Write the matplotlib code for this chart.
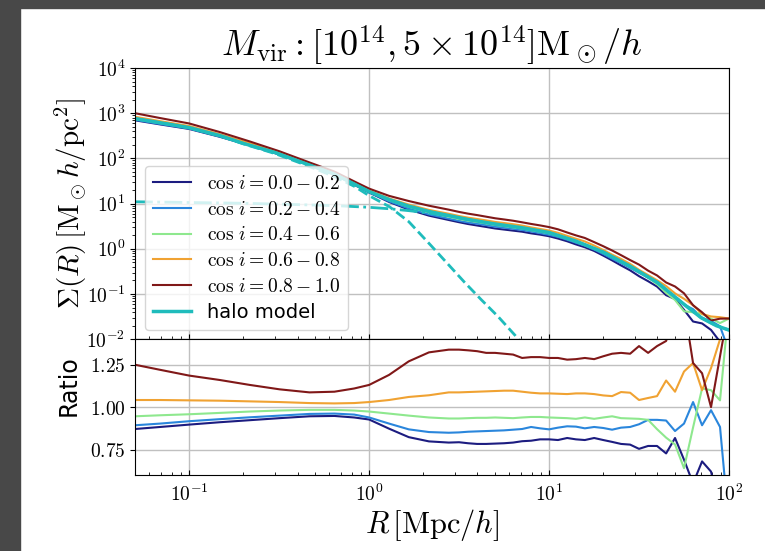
import matplotlib
matplotlib.use('Agg')
import matplotlib.pyplot as plt
import numpy as np
from matplotlib.patches import Rectangle
from matplotlib.ticker import FuncFormatter, LogLocator, FixedLocator

plt.rcParams['mathtext.fontset'] = 'cm'
plt.rcParams['font.family'] = ['DejaVu Sans']

# projected radius bins [Mpc/h]
R = [0.050, 0.069, 0.100, 0.148, 0.217, 0.318, 0.466, 0.641, 0.826, 1.00,
     1.29, 1.66, 2.15, 2.77, 3.16, 3.55, 3.98, 4.47, 5.01, 5.62,
     6.31, 7.08, 7.94, 8.91, 10.0, 11.2, 12.6, 14.1, 15.8, 17.8,
     20.0, 22.4, 25.1, 28.2, 31.6, 35.5, 39.8, 44.7, 50.1, 56.2,
     63.1, 70.8, 79.4, 89.1, 100.0]

# stacked surface density of all orientations [M_sun h / pc^2]
sigma_all = [800, 640, 500, 330, 210, 130, 75, 47, 28, 19,
             12.5, 9.0, 6.8, 5.5, 4.9, 4.5, 4.2, 3.9, 3.6, 3.4,
             3.2, 3.0, 2.75, 2.55, 2.35, 2.1, 1.8, 1.55, 1.35, 1.1,
             0.88, 0.70, 0.55, 0.43, 0.33, 0.25, 0.19, 0.13, 0.095, 0.065,
             0.045, 0.033, 0.026, 0.022, 0.018]

# ratio of each orientation bin to the stacked profile
ratio_00_02 = [0.871, 0.883, 0.897, 0.911, 0.923, 0.935, 0.946, 0.948, 0.939, 0.927,
               0.873, 0.823, 0.798, 0.791, 0.793, 0.787, 0.783, 0.783, 0.785, 0.787,
               0.791, 0.799, 0.802, 0.810, 0.810, 0.806, 0.818, 0.810, 0.806, 0.818,
               0.806, 0.795, 0.783, 0.779, 0.754, 0.771, 0.771, 0.727, 0.818, 0.690,
               0.55, 0.68, 0.62, 0.40, 0.30]
ratio_02_04 = [0.893, 0.903, 0.917, 0.929, 0.940, 0.950, 0.960, 0.962, 0.956, 0.939,
               0.903, 0.869, 0.853, 0.849, 0.851, 0.855, 0.857, 0.859, 0.861, 0.863,
               0.867, 0.871, 0.883, 0.875, 0.869, 0.879, 0.887, 0.885, 0.875, 0.883,
               0.877, 0.867, 0.879, 0.883, 0.899, 0.925, 0.925, 0.921, 0.859, 0.903,
               1.03, 0.893, 0.982, 0.883, 0.30]
ratio_04_06 = [0.946, 0.952, 0.958, 0.966, 0.974, 0.980, 0.984, 0.984, 0.980, 0.974,
               0.962, 0.950, 0.939, 0.933, 0.933, 0.935, 0.937, 0.937, 0.939, 0.937,
               0.935, 0.939, 0.942, 0.942, 0.939, 0.937, 0.935, 0.931, 0.939, 0.931,
               0.939, 0.946, 0.935, 0.933, 0.931, 0.925, 0.87, 0.82, 0.78, 0.64,
               0.88, 1.11, 1.10, 1.04, 1.60]
ratio_06_08 = [1.042, 1.042, 1.040, 1.038, 1.034, 1.030, 1.024, 1.022, 1.024, 1.030,
               1.042, 1.060, 1.070, 1.087, 1.087, 1.089, 1.091, 1.093, 1.095, 1.097,
               1.097, 1.091, 1.085, 1.081, 1.081, 1.079, 1.077, 1.081, 1.081, 1.077,
               1.069, 1.065, 1.089, 1.085, 1.042, 1.054, 1.065, 1.157, 1.091, 1.21,
               1.26, 1.10, 1.23, 1.40, 1.60]
ratio_08_10 = [1.250, 1.220, 1.186, 1.160, 1.131, 1.105, 1.087, 1.091, 1.110, 1.131,
               1.190, 1.270, 1.323, 1.339, 1.339, 1.335, 1.330, 1.320, 1.320, 1.315,
               1.310, 1.290, 1.295, 1.295, 1.290, 1.290, 1.280, 1.283, 1.290, 1.283,
               1.300, 1.315, 1.320, 1.315, 1.360, 1.320, 1.360, 1.390, 1.55, 1.60,
               1.26, 1.20, 1.00, 1.30, 1.60]

labels = [r'$\cos\,i = 0.0 - 0.2$', r'$\cos\,i = 0.2 - 0.4$',
          r'$\cos\,i = 0.4 - 0.6$', r'$\cos\,i = 0.6 - 0.8$',
          r'$\cos\,i = 0.8 - 1.0$']
colors = ['#1c1c80', '#2a86dc', '#8ee88e', '#f0a232', '#801818']

# halo model prediction
halo_R = [0.05, 0.07, 0.1, 0.15, 0.2, 0.3, 0.45, 0.64, 0.83, 1.0,
          1.3, 1.66, 2.15, 2.8, 3.5, 5.0, 7.0, 10.0, 14.0, 20.0,
          28.0, 40.0, 56.0, 70.0, 85.0, 100.0]
halo_total = [760, 610, 480, 315, 215, 135, 75, 45, 27, 18.5,
              12.2, 8.8, 6.7, 5.4, 4.5, 3.55, 2.95, 2.3, 1.5, 0.85,
              0.42, 0.18, 0.06, 0.03, 0.02, 0.016]
one_halo_R = [0.05, 0.07, 0.1, 0.15, 0.2, 0.3, 0.45, 0.64, 0.83, 1.0,
              1.3, 1.66, 2.2, 2.8, 3.4, 4.2, 5.2, 6.5, 7.5]
one_halo = [760, 610, 475, 310, 210, 128, 70, 40, 24, 15,
            8.5, 4.0, 1.2, 0.42, 0.18, 0.075, 0.032, 0.012, 0.006]
two_halo_R = [0.05, 0.1, 0.2, 0.3, 0.5, 0.7, 1.0, 1.3, 1.66, 2.15,
              2.8, 3.5, 5.0, 7.0, 10.0, 14.0, 20.0, 28.0, 40.0, 56.0,
              70.0, 85.0, 100.0]
two_halo = [11.0, 10.6, 10.2, 9.8, 9.3, 8.9, 8.3, 7.7, 7.0, 6.2,
            5.3, 4.5, 3.5, 2.9, 2.25, 1.48, 0.84, 0.42, 0.18, 0.06,
            0.03, 0.02, 0.016]
halo_color = '#1fbcbc'


def cm_number(v, pos):
    return r'$%.2f$' % v


def cm_power(v, pos):
    return r'$10^{%d}$' % round(np.log10(v))


if __name__ == '__main__':
    ratios = [ratio_00_02, ratio_02_04, ratio_04_06, ratio_06_08, ratio_08_10]
    r = np.array(R)
    base = np.array(sigma_all)

    fig = plt.figure(figsize=(7.65, 5.51), dpi=100)
    fig.patch.set_facecolor('white')
    # dark frame around the figure
    fig.patches.append(Rectangle((0, 0), 0.026, 1, transform=fig.transFigure,
                                 color='#484848', zorder=-1))
    fig.patches.append(Rectangle((0, 0.985), 1, 0.015, transform=fig.transFigure,
                                 color='#484848', zorder=-1))

    gs = fig.add_gridspec(2, 1, height_ratios=[2, 1], hspace=0,
                          left=0.1765, right=0.953, top=0.8766, bottom=0.138)
    ax = fig.add_subplot(gs[0])
    axr = fig.add_subplot(gs[1], sharex=ax)

    for rat, lab, c in zip(ratios, labels, colors):
        ax.plot(r, base * np.array(rat), color=c, lw=1.5, label=lab)
        axr.plot(r, rat, color=c, lw=1.5)

    ax.plot(halo_R, halo_total, color=halo_color, lw=2.5, label='halo model')
    ax.plot(one_halo_R, one_halo, color=halo_color, lw=2, ls='--')
    ax.plot(two_halo_R, two_halo, color=halo_color, lw=2, ls='-.')

    ax.set_xscale('log')
    ax.set_yscale('log')
    ax.set_xlim(0.05, 100)
    ax.set_ylim(1e-2, 1e4)
    ax.yaxis.set_major_locator(LogLocator(base=10, numticks=10))
    ax.yaxis.set_minor_locator(LogLocator(base=10, subs=np.arange(2, 10), numticks=10))
    ax.yaxis.set_major_formatter(FuncFormatter(cm_power))
    ax.grid(True, which='major', color='#c0c0c0', lw=1)
    ax.tick_params(axis='x', which='both', direction='in', labelbottom=False)
    ax.tick_params(axis='y', which='both', direction='out', labelsize=14)
    ax.set_ylabel(r'$\Sigma(R)\,[{\rm M}_\odot h/{\rm pc}^2]$', fontsize=21)
    ax.set_title(r'$M_{\rm vir}: [10^{14}, 5\times10^{14}]{\rm M}_\odot/h$',
                 fontsize=26, pad=2)
    ax.legend(loc='lower left', fontsize=14, labelspacing=0.35, handlelength=2.0)

    axr.set_ylim(0.6, 1.4)
    axr.yaxis.set_major_locator(FixedLocator([0.75, 1.0, 1.25]))
    axr.yaxis.set_major_formatter(FuncFormatter(cm_number))
    axr.xaxis.set_major_formatter(FuncFormatter(cm_power))
    axr.grid(True, which='major', color='#c0c0c0', lw=1)
    axr.tick_params(axis='x', which='both', direction='in', labelsize=14, pad=6)
    axr.tick_params(axis='y', which='both', direction='out', labelsize=14)
    axr.set_ylabel('Ratio', fontsize=17)
    axr.set_xlabel(r'$R\,[{\rm Mpc}/h]$', fontsize=22, labelpad=2)

    ax.yaxis.set_label_coords(-0.078, 0.5)
    axr.yaxis.set_label_coords(-0.092, 0.66)
    fig.savefig('out.png', dpi=100)
